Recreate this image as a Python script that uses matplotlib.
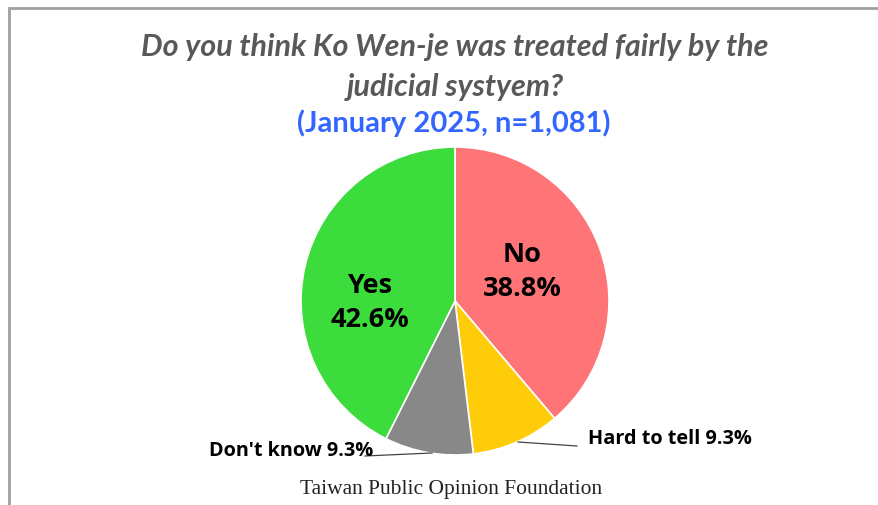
"""
Pie chart: fairness of Ko Wen-je's judicial treatment (TPOF, Jan 2025)
"""
import matplotlib.pyplot as plt
from matplotlib.patches import Rectangle

# data
labels = ['No', 'Hard to tell', "Don't know", 'Yes']
shares = [38.8, 9.3, 9.3, 42.6]
colors = ['#ff7577', '#ffcc0a', '#888888', '#3cdc3c']

title_text = 'Do you think Ko Wen-je was treated fairly by the\njudicial systyem?'
subtitle_text = '(January 2025, n=1,081)'
source_text = 'Taiwan Public Opinion Foundation'

W, H = 879, 506
fig = plt.figure(figsize=(W / 100, H / 100), dpi=100)
fig.patch.set_facecolor('white')

# gray frame (top and left edges visible)
fig.add_artist(Rectangle((9 / W, -0.05), 1.2, (H - 9) / H + 0.05,
                         transform=fig.transFigure, fill=False,
                         edgecolor='#a0a0a0', linewidth=2))

# pie axes: centre (455, 302), radius 154 px
cx, cy, r = 455, 302, 154
ax = fig.add_axes([(cx - r) / W, (H - cy - r) / H, 2 * r / W, 2 * r / H])
ax.pie(shares, colors=colors, startangle=90, counterclock=False,
       wedgeprops=dict(edgecolor='white', linewidth=1.2))
ax.set_xlim(-1, 1)
ax.set_ylim(-1, 1)
ax.set_aspect('auto')
ax.axis('off')


def px(x, y):
    """pixel position -> pie data coords"""
    return (x - cx) / r, (cy - y) / r


big = dict(fontsize=19.5, fontweight='bold', family='Open Sans',
           ha='center', va='center', linespacing=1.4)
ax.text(*px(522, 272), f'{labels[0]}\n{shares[0]}%', **big)
ax.text(*px(370, 303), f'{labels[3]}\n{shares[3]}%', **big)

small = dict(fontsize=14.3, fontweight='bold', family='Open Sans', va='center')
ax.text(*px(588, 439), f'{labels[1]} {shares[1]}%', ha='left', **small)
ax.text(*px(373, 451), f'{labels[2]} {shares[2]}%', ha='right', **small)

# leader lines
ax.plot(*zip(px(518, 443), px(577, 447)), color='#444444', lw=0.9,
        clip_on=False)
ax.plot(*zip(px(432, 454), px(365, 457)), color='#444444', lw=0.9,
        clip_on=False)

fig.text(455 / W, 1 - 67 / H, title_text, ha='center', va='center',
         fontsize=22, fontweight='bold', style='italic', family='Lato',
         color='#595959', linespacing=1.5)
fig.text(454 / W, 1 - 123 / H, subtitle_text, ha='center', va='center',
         fontsize=21, fontweight='bold', family='Lato', color='#3366ff')
fig.text(451 / W, 1 - 490 / H, source_text, ha='center', va='center',
         fontsize=15.5, family='Liberation Serif', color='#222222')

fig.savefig('out.png', dpi=100)
